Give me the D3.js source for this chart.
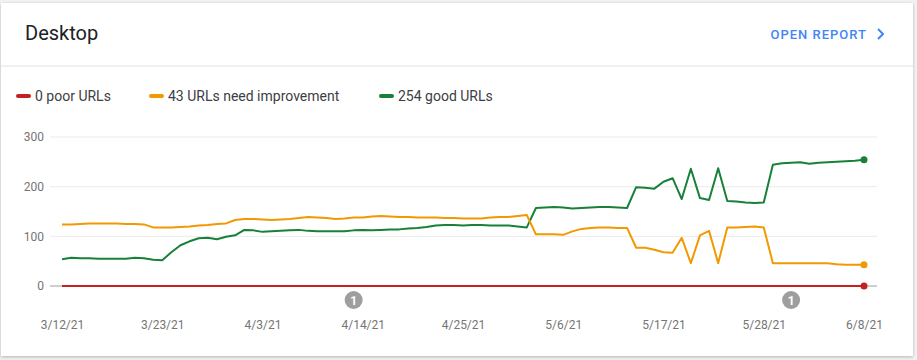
<!DOCTYPE html>
<html>
<head>
<meta charset="utf-8">
<script src="https://cdn.jsdelivr.net/npm/d3@7"></script>
<style>
  html, body { margin: 0; padding: 0; background: #f1f1f1; }
  #card {
    position: absolute; left: 1px; top: 3px; width: 912px; height: 353px;
    background: #fff; box-shadow: 0 1px 3px rgba(0,0,0,0.25);
  }
  svg { position: absolute; left: 0; top: 0; font-family: Roboto, "Noto Sans", sans-serif; }
</style>
</head>
<body>
<div id="card"></div>
<script>
// chart data, one value per day starting 3/12/21
var startDate = "3/12/21";
var tickLabels = ["3/12/21","3/23/21","4/3/21","4/14/21","4/25/21","5/6/21","5/17/21","5/28/21","6/8/21"];
var yTicks = [0, 100, 200, 300];

var poorValues = [0,0,0,0,0,0,0,0,0,0, 0,0,0,0,0,0,0,0,0,0,
  0,0,0,0,0,0,0,0,0,0, 0,0,0,0,0,0,0,0,0,0,
  0,0,0,0,0,0,0,0,0,0, 0,0,0,0,0,0,0,0,0,0,
  0,0,0,0,0,0,0,0,0,0, 0,0,0,0,0,0,0,0,0,0,
  0,0,0,0,0,0,0,0,0];

var needsValues = [124,124,125,126,126,126,126,125,125,124, 118,118,118,119,120,122,123,125,126,133,
  135,135,134,133,134,135,137,139,138,137, 135,136,138,138,140,141,140,139,139,138,
  138,138,137,137,136,136,136,138,139,139, 141,143,104,104,104,103,110,115,117,118,
  118,117,117,77,77,73,68,67,97,46, 102,111,46,118,118,119,120,118,46,46,
  46,46,46,46,46,44,43,43,43];

var goodValues = [54,57,56,56,55,55,55,55,57,56, 53,52,68,82,90,96,97,94,99,102,
  113,112,109,110,111,112,113,111,110,110, 110,110,112,113,112,113,114,114,116,117,
  119,122,123,123,122,123,123,122,122,122, 120,118,157,158,159,158,156,157,158,159,
  159,158,157,199,198,196,210,217,175,236, 177,173,237,171,170,168,167,168,244,247,
  248,249,246,248,249,250,251,252,254];

var annotations = [{date: "4/13/21", label: "1"}, {date: "5/31/21", label: "1"}];

var legendItems = [
  {label: "0 poor URLs", color: "#c5221f"},
  {label: "43 URLs need improvement", color: "#f29900"},
  {label: "254 good URLs", color: "#188038"}
];

var W = 917, H = 360;
var parse = d3.timeParse("%m/%d/%y");
var start = parse(startDate);

var svg = d3.select("body").append("svg")
  .attr("width", W).attr("height", H);

// header
svg.append("text")
  .attr("x", 25).attr("y", 40)
  .attr("font-size", 20).attr("fill", "#202124")
  .text("Desktop");

svg.append("text")
  .attr("x", 867).attr("y", 39)
  .attr("text-anchor", "end")
  .attr("font-size", 13).attr("font-weight", 500)
  .attr("letter-spacing", 1)
  .attr("fill", "#4285f4")
  .text("OPEN REPORT");

svg.append("path")
  .attr("d", "M 878 29 L 883 34 L 878 39")
  .attr("fill", "none").attr("stroke", "#4285f4").attr("stroke-width", 2);

svg.append("line")
  .attr("x1", 1).attr("x2", 913).attr("y1", 66).attr("y2", 66)
  .attr("stroke", "#e0e0e0");

// legend
var legendX = [17, 150, 380];
var legend = svg.selectAll("g.legend")
  .data(legendItems)
  .enter().append("g")
  .attr("class", "legend")
  .attr("transform", (d, i) => `translate(${legendX[i]},96)`);

legend.append("line")
  .attr("x1", 1).attr("x2", 12)
  .attr("stroke", d => d.color).attr("stroke-width", 4)
  .attr("stroke-linecap", "round");

legend.append("text")
  .attr("x", 18).attr("y", 5)
  .attr("font-size", 14).attr("fill", "#3c4043")
  .text(d => d.label);

// scales
var x = d3.scaleTime()
  .domain([start, parse(tickLabels[tickLabels.length - 1])])
  .range([62, 864]);

var y = d3.scaleLinear()
  .domain([0, 300])
  .range([286, 137]);

var gridLeft = 50, gridRight = 877;

// grid
svg.append("g").selectAll("line")
  .data(yTicks.filter(d => d > 0))
  .enter().append("line")
  .attr("x1", gridLeft).attr("x2", gridRight)
  .attr("y1", d => y(d)).attr("y2", d => y(d))
  .attr("stroke", "#ebebeb");

svg.append("line")
  .attr("x1", gridLeft).attr("x2", gridRight)
  .attr("y1", y(0)).attr("y2", y(0))
  .attr("stroke", "#9e9e9e");

// y axis labels
var yAxis = d3.axisLeft(y).tickValues(yTicks).tickSize(0).tickPadding(0);
var gy = svg.append("g")
  .attr("transform", "translate(44,0)")
  .call(yAxis);
gy.select(".domain").remove();
gy.selectAll("text")
  .attr("font-size", 12).attr("fill", "#757575")
  .attr("font-family", "Roboto, sans-serif");

// x axis labels
var xAxis = d3.axisBottom(x)
  .tickValues(tickLabels.map(parse))
  .tickFormat((d, i) => tickLabels[i])
  .tickSize(0).tickPadding(0);
var gx = svg.append("g")
  .attr("transform", "translate(0,320)")
  .call(xAxis);
gx.select(".domain").remove();
gx.selectAll("text")
  .attr("font-size", 12).attr("fill", "#757575")
  .attr("font-family", "Roboto, sans-serif");

// lines
var series = [
  {values: goodValues, color: "#188038"},
  {values: needsValues, color: "#f29900"},
  {values: poorValues, color: "#c5221f"}
];

var line = d3.line()
  .x((d, i) => x(d3.timeDay.offset(start, i)))
  .y(d => y(d));

svg.append("g").selectAll("path")
  .data(series)
  .enter().append("path")
  .attr("d", d => line(d.values))
  .attr("fill", "none")
  .attr("stroke", d => d.color)
  .attr("stroke-width", 2)
  .attr("stroke-linejoin", "round");

// end dots
svg.append("g").selectAll("circle")
  .data(series)
  .enter().append("circle")
  .attr("cx", d => x(d3.timeDay.offset(start, d.values.length - 1)))
  .attr("cy", d => y(d.values[d.values.length - 1]))
  .attr("r", 3.5)
  .attr("fill", d => d.color);

// annotations
var ann = svg.append("g").selectAll("g")
  .data(annotations)
  .enter().append("g")
  .attr("transform", d => `translate(${x(parse(d.date))},300)`);

ann.append("circle")
  .attr("r", 9).attr("fill", "#9e9e9e");

ann.append("text")
  .attr("text-anchor", "middle").attr("y", 4.5)
  .attr("font-size", 12).attr("font-weight", 700)
  .attr("fill", "#fff")
  .text(d => d.label);
</script>
</body>
</html>
